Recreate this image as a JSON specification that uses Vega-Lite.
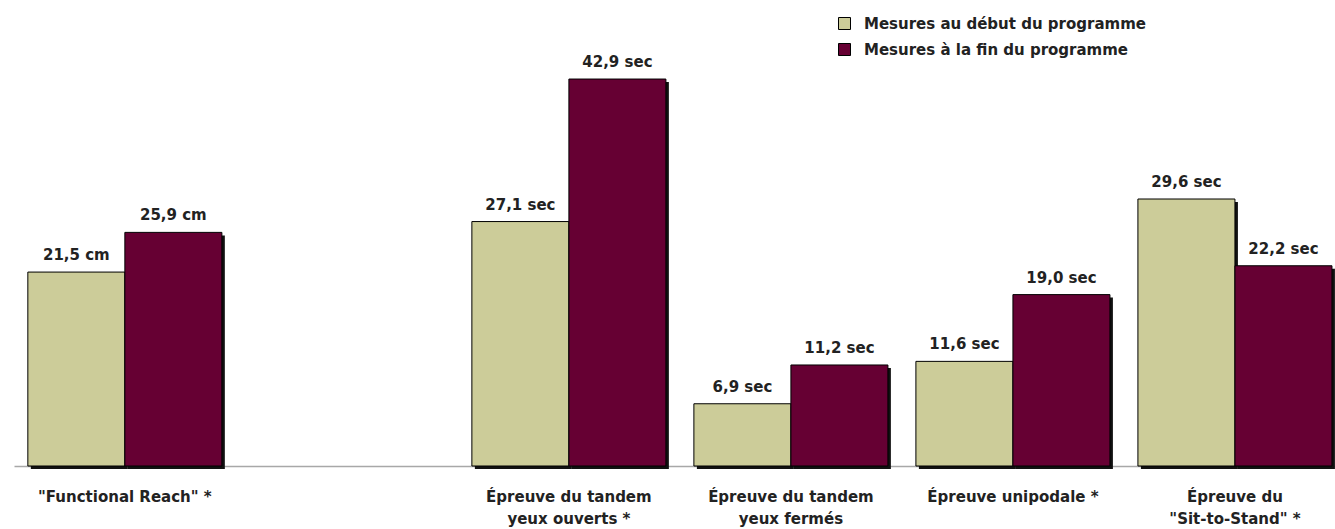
{
  "$schema": "https://vega.github.io/schema/vega-lite/v6.json",
  "width": 1321,
  "height": 451,
  "autosize": {"type": "none"},
  "padding": {"left": 14, "top": 15, "right": 0, "bottom": 63},
  "background": "white",
  "data": {
    "values": [
      {"group": "\"Functional Reach\" *", "phase": "Mesures au début du programme", "value": 21.5, "label": "21,5 cm"},
      {"group": "\"Functional Reach\" *", "phase": "Mesures à la fin du programme", "value": 25.9, "label": "25,9 cm"},
      {"group": "Épreuve du tandem|yeux ouverts *", "phase": "Mesures au début du programme", "value": 27.1, "label": "27,1 sec"},
      {"group": "Épreuve du tandem|yeux ouverts *", "phase": "Mesures à la fin du programme", "value": 42.9, "label": "42,9 sec"},
      {"group": "Épreuve du tandem|yeux fermés", "phase": "Mesures au début du programme", "value": 6.9, "label": "6,9 sec"},
      {"group": "Épreuve du tandem|yeux fermés", "phase": "Mesures à la fin du programme", "value": 11.2, "label": "11,2 sec"},
      {"group": "Épreuve unipodale *", "phase": "Mesures au début du programme", "value": 11.6, "label": "11,6 sec"},
      {"group": "Épreuve unipodale *", "phase": "Mesures à la fin du programme", "value": 19.0, "label": "19,0 sec"},
      {"group": "Épreuve du|\"Sit-to-Stand\" *", "phase": "Mesures au début du programme", "value": 29.6, "label": "29,6 sec"},
      {"group": "Épreuve du|\"Sit-to-Stand\" *", "phase": "Mesures à la fin du programme", "value": 22.2, "label": "22,2 sec"}
    ]
  },
  "encoding": {
    "x": {
      "field": "group",
      "type": "nominal",
      "sort": null,
      "scale": {
        "domain": ["\"Functional Reach\" *", " ", "Épreuve du tandem|yeux ouverts *", "Épreuve du tandem|yeux fermés", "Épreuve unipodale *", "Épreuve du|\"Sit-to-Stand\" *"],
        "paddingInner": 0.126,
        "paddingOuter": 0.038,
        "align": 0.82
      },
      "axis": {
        "title": null,
        "labelAngle": 0,
        "ticks": false,
        "domainColor": "#a8a8a8",
        "domainWidth": 1.5,
        "labelFont": "DejaVu Sans",
        "labelFontWeight": "bold",
        "labelFontSize": 15,
        "labelColor": "#222222",
        "labelPadding": 23,
        "labelLineHeight": 22,
        "labelBaseline": "top",
        "labelLimit": 0,
        "labelExpr": "split(datum.label, '|')"
      }
    },
    "y": {
      "field": "value",
      "type": "quantitative",
      "scale": {"domain": [0, 50], "nice": false},
      "axis": null
    }
  },
  "layer": [
    {
      "mark": {"type": "bar", "color": "#111111", "yOffset": 3, "y2Offset": 0},
      "encoding": {
        "xOffset": {
          "field": "phase",
          "type": "nominal",
          "sort": null,
          "scale": {"domain": ["Mesures au début du programme", "Mesures à la fin du programme"], "range": [3, 197], "paddingInner": 0, "paddingOuter": 0}
        }
      }
    },
    {
      "encoding": {
        "xOffset": {
          "field": "phase",
          "type": "nominal",
          "sort": null,
          "scale": {"domain": ["Mesures au début du programme", "Mesures à la fin du programme"], "paddingInner": 0, "paddingOuter": 0}
        }
      },
      "layer": [
        {
          "mark": {"type": "bar", "stroke": "#000000", "strokeWidth": 1},
          "encoding": {
            "color": {
              "field": "phase",
              "type": "nominal",
              "sort": null,
              "scale": {"domain": ["Mesures au début du programme", "Mesures à la fin du programme"], "range": ["#CCCC99", "#660033"]},
              "legend": {
                "title": null,
                "orient": "none",
                "legendX": 823,
                "legendY": 1,
                "symbolType": "square",
                "symbolSize": 144,
                "symbolStrokeColor": "#000000",
                "symbolStrokeWidth": 1,
                "symbolOpacity": 1,
                "labelFont": "DejaVu Sans",
                "labelFontWeight": "bold",
                "labelFontSize": 15,
                "labelColor": "#222222",
                "labelOffset": 12,
                "rowPadding": 9,
                "labelLimit": 0
              }
            }
          }
        },
        {
          "mark": {"type": "text", "dy": -12, "baseline": "alphabetic", "font": "DejaVu Sans", "fontWeight": "bold", "fontSize": 15, "color": "#222222"},
          "encoding": {
            "text": {"field": "label"}
          }
        }
      ]
    }
  ],
  "resolve": {"scale": {"xOffset": "independent"}},
  "config": {
    "view": {"stroke": null}
  }
}
